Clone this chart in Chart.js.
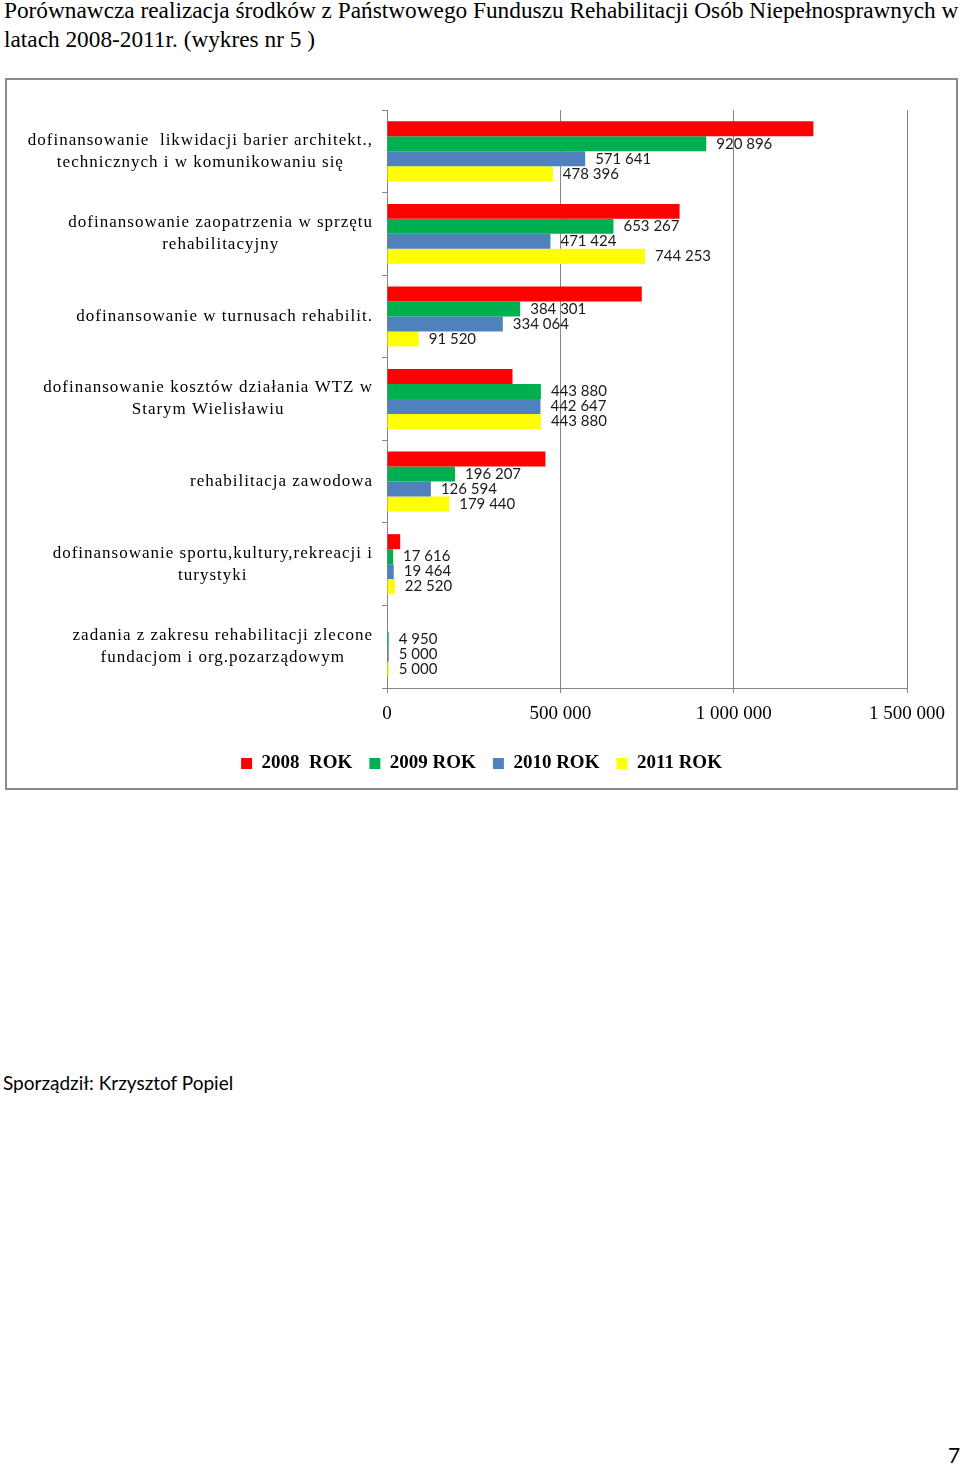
<!DOCTYPE html>
<html>
<head>
<meta charset="utf-8">
<script src="https://cdn.jsdelivr.net/npm/chart.js@4.4.0/dist/chart.umd.min.js"></script>
<style>
  body { margin: 0; width: 960px; height: 1466px; background: #fff; position: relative; overflow: hidden; }
  #title { position: absolute; left: 4px; top: -4px; width: 960px; white-space: nowrap; font-family: "Liberation Serif", serif; font-size: 23.3px; line-height: 29px; color: #000; }
  #box { position: absolute; left: 5px; top: 78px; width: 949px; height: 708px; border: 2px solid #8a8a8a; }
  #footer { position: absolute; left: 3px; top: 1071px; font-family: "Lato", sans-serif; font-size: 19px; color: #000; }
  #page { position: absolute; left: 948px; top: 1442px; font-family: "Lato", sans-serif; font-size: 21px; color: #000; }
</style>
</head>
<body>
<div id="title">Porównawcza realizacja środków z Państwowego Funduszu Rehabilitacji Osób Niepełnosprawnych w<br>latach 2008-2011r. (wykres nr 5 )</div>
<div id="box"><canvas id="barChart" width="949" height="708"></canvas></div>
<div id="footer">Sporządził: Krzysztof Popiel</div>
<div id="page">7</div>
<script>
const categories = [
  ["dofinansowanie  likwidacji barier architekt.,", "technicznych i w komunikowaniu się"],
  ["dofinansowanie zaopatrzenia w sprzętu", "rehabilitacyjny"],
  ["dofinansowanie w turnusach rehabilit."],
  ["dofinansowanie kosztów działania WTZ w", "Starym Wielisławiu"],
  ["rehabilitacja zawodowa"],
  ["dofinansowanie sportu,kultury,rekreacji i", "turystyki"],
  ["zadania z zakresu rehabilitacji zlecone", "fundacjom i org.pozarządowym"],
];
const seriesNames = ["2008  ROK", "2009 ROK", "2010 ROK", "2011 ROK"];
const values2008 = [1230000, 844000, 735000, 362000, 457000, 38000, 0];
const values2009 = [920896, 653267, 384301, 443880, 196207, 17616, 4950];
const values2010 = [571641, 471424, 334064, 442647, 126594, 19464, 5000];
const values2011 = [478396, 744253, 91520, 443880, 179440, 22520, 5000];
const xTicks = [0, 500000, 1000000, 1500000];

const colors = ["#ff0000", "#00b050", "#4f81bd", "#ffff00"];
const fmt = (n) => String(n).replace(/\B(?=(\d{3})+(?!\d))/g, " ");

// category labels: block right-aligned, lines centred inside it
const yLabels = {
  id: "yLabels",
  afterDraw(chart) {
    const ctx = chart.ctx;
    const ys = chart.scales.y;
    ctx.save();
    ctx.font = "17px 'Liberation Serif'";
    ctx.letterSpacing = "1px";
    ctx.fillStyle = "#000";
    ctx.textAlign = "center";
    ctx.textBaseline = "middle";
    categories.forEach((lines, i) => {
      const w = Math.max(...lines.map((l) => ctx.measureText(l).width));
      const cx = ys.right - 14 - w / 2;
      const cy = ys.getPixelForValue(i);
      lines.forEach((l, k) => {
        ctx.fillText(l, cx, cy + (k - (lines.length - 1) / 2) * 22);
      });
    });
    ctx.restore();
  },
};

// value labels for 2009-2011 only
const valueLabels = {
  id: "valueLabels",
  afterDatasetsDraw(chart) {
    const ctx = chart.ctx;
    ctx.save();
    ctx.font = "15px 'Lato'";
    ctx.fillStyle = "#1a1a1a";
    ctx.textAlign = "left";
    ctx.textBaseline = "middle";
    [1, 2, 3].forEach((d) => {
      const meta = chart.getDatasetMeta(d);
      meta.data.forEach((bar, i) => {
        ctx.fillText(fmt(chart.data.datasets[d].data[i]), bar.x + 10, bar.y);
      });
    });
    ctx.restore();
  },
};

const allValues = [values2008, values2009, values2010, values2011];

new Chart(document.getElementById("barChart").getContext("2d"), {
  type: "bar",
  data: {
    labels: categories.map((c) => c.join(" ")),
    datasets: allValues.map((v, k) => ({
      label: seriesNames[k],
      data: v,
      backgroundColor: colors[k],
      borderWidth: 0,
      categoryPercentage: 0.726,
      barPercentage: 1,
    })),
  },
  options: {
    indexAxis: "y",
    responsive: false,
    animation: false,
    layout: { padding: { top: 30, right: 0, bottom: 5, left: 0 } },
    plugins: {
      tooltip: { enabled: false },
      legend: {
        position: "bottom",
        labels: {
          boxWidth: 11,
          boxHeight: 11,
          padding: 17,
          color: "#000",
          font: { family: "Liberation Serif", size: 19, weight: "bold" },
        },
      },
    },
    scales: {
      x: {
        min: 0,
        max: 1500000,
        afterBuildTicks: (s) => { s.ticks = xTicks.map((v) => ({ value: v })); },
        afterFit: (s) => { s.height = 49; s.paddingRight = 49; },
        grid: { color: "#868686", tickLength: 5 },
        border: { color: "#868686" },
        ticks: {
          padding: 10,
          color: "#000",
          font: { family: "Liberation Serif", size: 19 },
          callback: (v) => fmt(v),
        },
      },
      y: {
        afterFit: (s) => { s.width = 380; },
        grid: { drawOnChartArea: false, color: "#868686", tickLength: 5 },
        border: { color: "#868686" },
        ticks: { display: false },
      },
    },
  },
  plugins: [yLabels, valueLabels],
});
</script>
</body>
</html>
